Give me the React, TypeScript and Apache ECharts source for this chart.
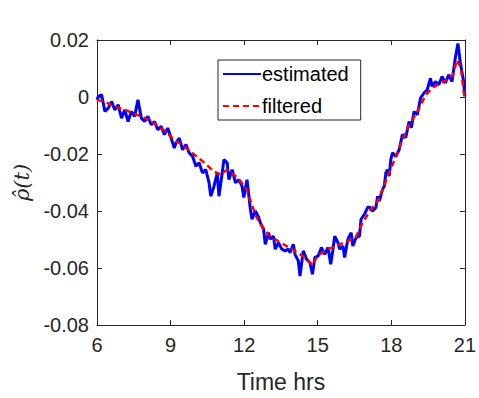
import React, { useEffect, useRef } from "react";
import * as echarts from "echarts";

const estTime = [
  6.0, 6.053, 6.19, 6.323, 6.457, 6.594, 6.728, 6.861, 6.999, 7.132, 7.266, 7.403, 7.536, 7.67, 7.807,
  7.941, 8.074, 8.212, 8.345, 8.478, 8.616, 8.749, 8.883, 9.02, 9.154, 9.222, 9.356, 9.489, 9.627, 9.76,
  9.894, 10.031, 10.164, 10.298, 10.435, 10.569, 10.638, 10.771, 10.904, 10.973, 11.107, 11.175, 11.309,
  11.377, 11.511, 11.648, 11.782, 11.915, 11.984, 12.117, 12.255, 12.32, 12.457, 12.59, 12.659, 12.793,
  12.861, 12.995, 13.064, 13.197, 13.266, 13.399, 13.533, 13.67, 13.803, 13.872, 14.006, 14.074, 14.208,
  14.277, 14.41, 14.543, 14.681, 14.786, 14.883, 15.016, 15.15, 15.287, 15.42, 15.53, 15.623, 15.692,
  15.825, 15.894, 16.027, 16.096, 16.229, 16.363, 16.431, 16.565, 16.702, 16.767, 16.904, 17.038, 17.119,
  17.24, 17.373, 17.442, 17.511, 17.644, 17.713, 17.778, 17.847, 17.915, 17.98, 18.049, 18.182, 18.32,
  18.453, 18.587, 18.724, 18.817, 18.926, 19.06, 19.193, 19.331, 19.464, 19.597, 19.666, 19.8, 19.937,
  20.07, 20.204, 20.341, 20.475, 20.608, 20.717, 20.81, 20.948, 21.0,
];
const estValue = [
  -0.001, 0.0002, 0.0008, -0.0051, -0.0039, -0.0016, -0.0045, -0.0027, -0.0074, -0.0045, -0.0086, -0.0051,
  -0.0068, -0.001, -0.0074, -0.0086, -0.0068, -0.0097, -0.0086, -0.0115, -0.0103, -0.0132, -0.0109, -0.0144,
  -0.0179, -0.0161, -0.0144, -0.0185, -0.0167, -0.0196, -0.0208, -0.0243, -0.0231, -0.0266, -0.0255, -0.0301,
  -0.0348, -0.0313, -0.0266, -0.0348, -0.0266, -0.022, -0.0231, -0.029, -0.0255, -0.0301, -0.029, -0.0313,
  -0.0353, -0.029, -0.0394, -0.0429, -0.04, -0.0422, -0.0441, -0.0464, -0.0517, -0.0476, -0.0499, -0.0488,
  -0.0534, -0.0511, -0.0534, -0.054, -0.0534, -0.0546, -0.0517, -0.0552, -0.0575, -0.0628, -0.054, -0.0569,
  -0.0581, -0.0622, -0.0563, -0.0558, -0.0528, -0.0552, -0.0528, -0.0587, -0.0534, -0.0488, -0.0511, -0.0534,
  -0.0523, -0.0563, -0.0499, -0.0476, -0.0523, -0.0493, -0.0488, -0.0429, -0.0412, -0.0387, -0.0387, -0.04,
  -0.0388, -0.0348, -0.0365, -0.0324, -0.0313, -0.0266, -0.0255, -0.0278, -0.022, -0.0196, -0.0209, -0.0185,
  -0.0132, -0.0143, -0.0086, -0.0108, -0.0051, -0.0062, -0.0004, 0.0014, 0.0025, 0.0066, 0.0037, 0.0054,
  0.0043, 0.0072, 0.0049, 0.0078, 0.0054, 0.0136, 0.0188, 0.0124, 0.0054, 0.0002,
];

const filtTime = [
  6.0, 6.323, 6.728, 7.132, 7.536, 7.941, 8.345, 8.749, 9.154, 9.558, 9.962, 10.367, 10.771, 11.054, 11.297,
  11.58, 11.863, 12.105, 12.307, 12.51, 12.793, 13.076, 13.399, 13.803, 14.208, 14.531, 14.774, 15.016,
  15.42, 15.825, 16.229, 16.553, 16.795, 17.119, 17.442, 17.685, 17.927, 18.17, 18.453, 18.736, 19.06,
  19.383, 19.666, 19.949, 20.273, 20.515, 20.677, 20.839, 20.94, 21.0,
];
const filtValue = [
  -0.001, -0.0017, -0.0034, -0.0045, -0.0059, -0.0073, -0.0094, -0.0118, -0.015, -0.0174, -0.0202, -0.023,
  -0.0262, -0.0272, -0.0255, -0.0272, -0.0297, -0.0324, -0.0377, -0.0422, -0.0464, -0.0489, -0.0506, -0.0527,
  -0.0548, -0.0566, -0.059, -0.0555, -0.0534, -0.052, -0.0506, -0.0492, -0.0447, -0.0401, -0.0366, -0.0317,
  -0.0262, -0.0213, -0.015, -0.0097, -0.0052, 0.0004, 0.0032, 0.0046, 0.006, 0.0078, 0.013, 0.0102, 0.0025,
  0.0001,
];

const xTicks = [6, 9, 12, 15, 18, 21];
const yTicks = [-0.08, -0.06, -0.04, -0.02, 0, 0.02];

const AXIS = "#262626";
const FONT = "'Liberation Sans', Arial, sans-serif";

export default function App() {
  const ref = useRef<HTMLDivElement>(null);
  useEffect(() => {
    if (!ref.current) return;
    const chart = echarts.init(ref.current, undefined, { renderer: "svg" });
    const est = estTime.map((t, i) => [t, estValue[i]]);
    const filt = filtTime.map((t, i) => [t, filtValue[i]]);
    const xMin = xTicks[0];
    const xMax = xTicks[xTicks.length - 1];
    const yMin = yTicks[0];
    const yMax = yTicks[yTicks.length - 1];
    const tick = { show: true, inside: true, length: 5, lineStyle: { color: AXIS, width: 1 } };
    const line = { show: true, onZero: false, lineStyle: { color: AXIS, width: 1 } };
    chart.setOption({
      animation: false,
      backgroundColor: "#ffffff",
      grid: { left: 97, right: 11, top: 40, bottom: 72, containLabel: false },
      legend: {
        left: 218,
        top: 60,
        orient: "vertical",
        backgroundColor: "#ffffff",
        borderColor: AXIS,
        borderWidth: 1,
        borderRadius: 0,
        padding: [4, 12, 4, 4],
        itemWidth: 38,
        itemHeight: 14,
        itemGap: 12,
        itemStyle: { color: "rgba(0,0,0,0)", borderWidth: 0, opacity: 0 },
        textStyle: { fontSize: 20, color: "#000000", fontFamily: FONT, padding: [0, 0, 0, -4] },
        data: ["estimated", "filtered"],
      },
      xAxis: [
        {
          type: "value",
          min: xMin,
          max: xMax,
          interval: 3,
          name: "Time hrs",
          nameLocation: "middle",
          nameGap: 45,
          nameTextStyle: { fontSize: 23, color: AXIS, fontFamily: FONT },
          axisLine: line,
          axisTick: tick,
          axisLabel: { fontSize: 20, color: AXIS, fontFamily: FONT, margin: 10 },
          splitLine: { show: false },
        },
        {
          type: "value",
          position: "top",
          min: xMin,
          max: xMax,
          interval: 3,
          axisLine: line,
          axisTick: tick,
          axisLabel: { show: false },
          splitLine: { show: false },
        },
      ],
      yAxis: [
        {
          type: "value",
          min: yMin,
          max: yMax,
          interval: 0.02,
          name: "ρ\u0302(t)",
          nameLocation: "middle",
          nameGap: 62,
          nameTextStyle: { fontSize: 21, color: AXIS, fontFamily: "'DejaVu Serif', serif", fontStyle: "italic" },
          axisLine: line,
          axisTick: tick,
          axisLabel: {
            fontSize: 20,
            color: AXIS,
            fontFamily: FONT,
            margin: 8,
            formatter: (v: number) => (Math.abs(v) < 1e-9 ? "0" : v.toFixed(2)),
          },
          splitLine: { show: false },
        },
        {
          type: "value",
          position: "right",
          min: yMin,
          max: yMax,
          interval: 0.02,
          axisLine: line,
          axisTick: tick,
          axisLabel: { show: false },
          splitLine: { show: false },
        },
      ],
      series: [
        {
          name: "estimated",
          type: "line",
          data: est,
          symbol: "none",
          lineStyle: { color: "#0000ff", width: 3 },
          itemStyle: { color: "#0000ff" },
          z: 2,
        },
        {
          name: "filtered",
          type: "line",
          data: filt,
          symbol: "none",
          lineStyle: { color: "#ff0000", width: 2.5, type: [6, 4] },
          itemStyle: { color: "#ff0000" },
          z: 3,
        },
      ],
    });
    return () => chart.dispose();
  }, []);
  return (
    <div
      ref={ref}
      style={{ position: "fixed", left: 0, top: 0, width: 479, height: 398 }}
    />
  );
}
